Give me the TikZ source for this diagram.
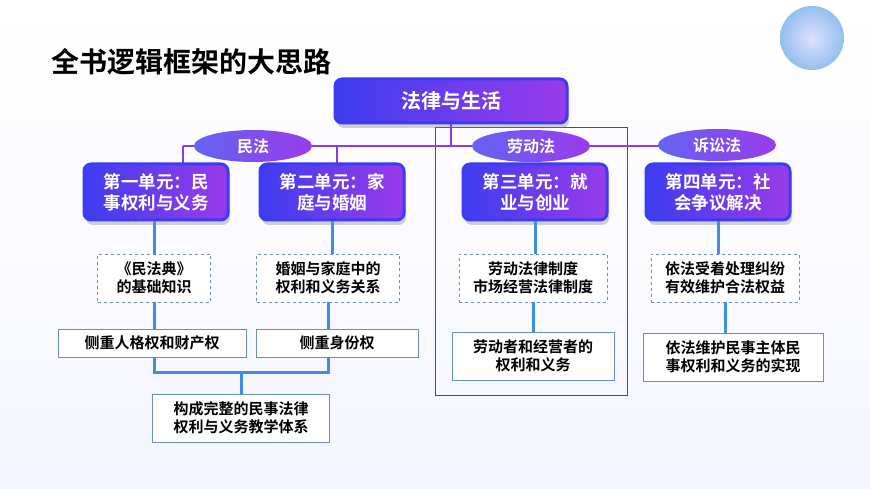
\documentclass[tikz,border=0pt]{standalone}
\usepackage{fontspec}
\setmainfont{Noto Sans CJK SC}[BoldFont=* Bold]
\usetikzlibrary{shapes.geometric,shadows}
\definecolor{unitblue}{HTML}{3D3DF0}
\definecolor{unitviolet}{HTML}{9A3BEA}
\definecolor{linkblue}{HTML}{3E8FE0}
\definecolor{boxedge}{HTML}{6A8CC8}
\begin{document}
\begin{tikzpicture}[
    x=1pt, y=-1pt,
    unit/.style={rectangle, rounded corners=7pt, draw=unitblue, line width=3pt,
      left color=unitblue, right color=unitviolet, text=white, font=\bfseries\fontsize{17.5}{21}\selectfont,
      minimum width=144pt, minimum height=56pt, align=center, inner sep=2pt,
      drop shadow={shadow xshift=2pt, shadow yshift=-5pt, opacity=0.35}},
    branch/.style={ellipse, left color=unitblue!80, right color=unitviolet, text=white,
      font=\bfseries\fontsize{16}{18}\selectfont, minimum width=118pt, minimum height=32pt, inner sep=0pt},
    dashbox/.style={rectangle, draw=boxedge, dashed, fill=white, font=\bfseries\fontsize{15}{18}\selectfont,
      align=center, minimum height=48pt, inner sep=1pt},
    solidbox/.style={rectangle, draw=boxedge, fill=white, font=\bfseries\fontsize{15}{18}\selectfont,
      align=center, inner sep=1pt},
    link/.style={linkblue, line width=3pt},
    lawline/.style={unitviolet!80!unitblue, line width=2.5pt}
]
\useasboundingbox (0,0) rectangle (870,489);
\fill[top color=white, bottom color=blue!4] (0,0) rectangle (870,489);
\begin{scope}
\clip (0,0) rectangle (870,489);
\shade[inner color=blue!15, outer color=linkblue!70, opacity=0.8] (812,38) circle (32pt);
\end{scope}

% Title
\node[anchor=west, font=\bfseries\fontsize{28}{32}\selectfont] (title) at (48,62) {全书逻辑框架的大思路};

% Frame around the labour-law branch
\draw[unitblue, line width=1pt] (435,128) rectangle (627,395);

% Root and branches
\coordinate (lawleft) at (183,146);
\coordinate (lawright) at (717,146);
\coordinate (rootfoot) at (451,146);
\draw[lawline] (lawleft) -- (lawright);
\draw[lawline] (lawleft) -- (183,165);
\draw[lawline] (337,146) -- (337,165);
\node[unit, minimum width=232pt, minimum height=44pt, font=\bfseries\fontsize{20}{22}\selectfont] (root) at (451,101) {法律与生活};
\draw[lawline] (root) -- (rootfoot);

\node[branch] (civil) at (253,146) {民法};
\node[branch] (labour) at (531,146) {劳动法};
\node[branch] (litig) at (717,145) {诉讼法};

% Units
\node[unit] (unitone) at (156,192) {第一单元：民\\事权利与义务};
\node[unit] (unittwo) at (332,192) {第二单元：家\\庭与婚姻};
\node[unit] (unitthree) at (535,192) {第三单元：就\\业与创业};
\node[unit] (unitfour) at (718,192) {第四单元：社\\会争议解决};

% Contents
\node[dashbox, minimum width=113pt] (baseone) at (154,278) {《民法典》\\的基础知识};
\node[dashbox, minimum width=143pt] (basetwo) at (328,278) {婚姻与家庭中的\\权利和义务关系};
\node[dashbox, minimum width=148pt] (basethree) at (533,278) {劳动法律制度\\市场经营法律制度};
\node[dashbox, minimum width=148pt] (basefour) at (725,278) {依法受着处理纠纷\\有效维护合法权益};

\node[solidbox, minimum width=188pt, minimum height=28pt] (focusone) at (152,343) {侧重人格权和财产权};
\node[solidbox, minimum width=162pt, minimum height=28pt] (focustwo) at (337,343) {侧重身份权};
\node[solidbox, minimum width=162pt, minimum height=48pt] (focusthree) at (533,356) {劳动者和经营者的\\权利和义务};
\node[solidbox, minimum width=180pt, minimum height=48pt] (focusfour) at (733,357) {依法维护民事主体民\\事权利和义务的实现};
\node[solidbox, minimum width=177pt, minimum height=48pt] (system) at (241,418) {构成完整的民事法律\\权利与义务教学体系};

% Connections
\draw[link] (unitone.south -| baseone) -- (baseone);
\draw[link] (unittwo) -- (unittwo |- basetwo.north);
\draw[link] (unitthree) -- (unitthree |- basethree.north);
\draw[link] (unitfour) -- (unitfour |- basefour.north);
\draw[link] (baseone) -- (baseone |- focusone.north);
\draw[link] (basetwo) -- (basetwo |- focustwo.north);
\draw[link] (basethree) -- (focusthree);
\draw[link] (basefour) -- (basefour |- focusfour.north);
\coordinate (join) at (241,372);
\draw[link] (focusone.south -| baseone) |- (join) -| (focustwo.south -| basetwo);
\draw[link] (join) -- (system);
\end{tikzpicture}
\end{document}
